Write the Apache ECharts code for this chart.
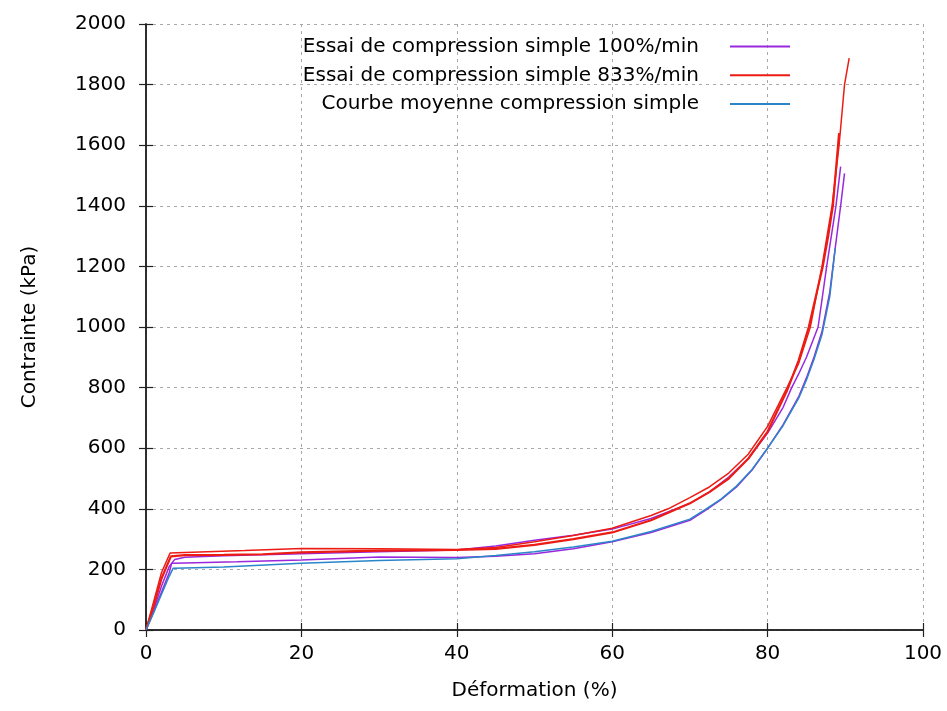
<!DOCTYPE html>
<html><head><meta charset="utf-8">
<script src="https://cdn.jsdelivr.net/npm/echarts@6/dist/echarts.min.js"></script>
<style>html,body{margin:0;padding:0;background:#fff}#c{width:947px;height:711px}</style>
</head><body><div id="c"></div>
<script>
// Axis ticks
const xTicks = [0, 20, 40, 60, 80, 100];
const yTicks = [0, 200, 400, 600, 800, 1000, 1200, 1400, 1600, 1800, 2000];

// Legend names
const name100 = 'Essai de compression simple 100%/min';
const name833 = 'Essai de compression simple 833%/min';
const nameMean = 'Courbe moyenne compression simple';

// 100%/min test A (lower plateau)
const strainP1 = [0, 1, 2, 3, 3.3, 5, 11.7, 20, 30, 40, 45, 50, 55, 60, 65, 70, 72, 74, 76, 78, 80, 82, 84, 85, 86, 87, 88, 88.7, 89.4, 89.9];
const stressP1 = [0, 60, 125, 190, 220, 221, 225, 231, 241, 239, 243, 252, 268, 291, 322, 362, 395, 430, 472, 528, 600, 678, 770, 832, 903, 985, 1115, 1260, 1400, 1507];
// 100%/min test B (upper plateau)
const strainP2 = [0, 1, 2, 3, 3.7, 5, 10, 20, 30, 40, 45, 50, 55, 60, 65, 70, 72.5, 75, 77.5, 80, 82, 83.1, 84, 85, 86.5, 87, 87.6, 88.2, 88.8, 89.4];
const stressP2 = [0, 68, 145, 210, 233, 240, 245, 252, 258, 264, 277, 296, 313, 333, 368, 418, 455, 505, 565, 650, 735, 800, 845, 900, 1000, 1090, 1200, 1300, 1400, 1529];
// 833%/min test A (upper thin)
const strainR1 = [0, 1, 2, 3.1, 5, 12.7, 20, 30, 40, 45, 50, 55, 60, 65, 67.2, 70, 72.5, 75, 77.5, 80, 82.5, 84, 85.5, 87, 88.3, 89.2, 89.9, 90.5];
const stressR1 = [0, 95, 190, 254, 256, 262, 269, 268, 266, 272, 291, 312, 336, 378, 400, 437, 472, 518, 580, 672, 800, 880, 1000, 1200, 1400, 1600, 1800, 1887];
// 833%/min test B (thick)
const strainR2 = [0, 1, 2, 3.2, 5, 10, 15, 20, 30, 40, 45, 50, 55, 60, 65, 70, 72.5, 75, 77.5, 80, 82.5, 84, 85.3, 86.2, 87.1, 87.8, 88.4, 89.2];
const stressR2 = [0, 80, 170, 243, 247, 248, 250, 256, 262, 264, 268, 281, 300, 322, 362, 418, 455, 500, 565, 655, 790, 890, 1000, 1100, 1200, 1300, 1400, 1640];
// Mean curve
const strainM = [0, 1, 2, 3, 3.5, 5, 10, 20, 30, 40, 45, 50, 55, 60, 65, 70, 72, 74, 76, 78, 80, 82, 84, 85, 86, 87, 88, 88.7];
const stressM = [0, 58, 118, 178, 204, 205, 208, 220, 229, 235, 246, 258, 274, 293, 325, 366, 398, 432, 475, 530, 600, 675, 765, 825, 895, 975, 1100, 1260];

const PURPLE = '#9a28dc', RED = '#ec1c14', BLUE = '#2a86c8';
const FONT = 'DejaVu Sans';
const FS = 20;

function pairs(xs, ys) { return xs.map((x, i) => [x, ys[i]]); }
function line(name, xs, ys, color, width) {
  return { type: 'line', name, color, data: pairs(xs, ys), showSymbol: false, symbol: 'none',
    lineStyle: { width, color }, animation: false, z: 2 };
}

const frame = { show: true, lineStyle: { color: '#222', width: 1.5 } };
const tick = { show: true, inside: true, length: 7, lineStyle: { color: '#222', width: 1.2 } };
const grid = { show: true, lineStyle: { color: '#a8a8a8', type: [3, 4], width: 1 } };
const label = { color: '#000', fontSize: FS, fontFamily: FONT, formatter: v => String(v) };

const names = [name100, name833, nameMean];
const legends = names.map((n, i) => ({
  data: [n], orient: 'vertical', right: 157, top: 36.5 + i * 28.8, align: 'right',
  icon: 'rect', itemWidth: 60, itemHeight: 2, padding: 0, selectedMode: false,
  textStyle: { color: '#000', fontSize: FS, fontFamily: FONT, padding: [0, 26, 0, 0] }
}));

const option = {
  backgroundColor: '#fff',
  animation: false,
  grid: { left: 146, right: 24, top: 24, bottom: 81, containLabel: false },
  legend: legends,
  xAxis: [
    { type: 'value', position: 'bottom', min: xTicks[0], max: xTicks[xTicks.length - 1], interval: xTicks[1] - xTicks[0],
      axisLine: frame, axisTick: tick, splitLine: grid,
      axisLabel: Object.assign({ margin: 14 }, label),
      name: 'Déformation (%)', nameLocation: 'middle', nameGap: 51,
      nameTextStyle: { color: '#000', fontSize: FS, fontFamily: FONT } },
    { type: 'value', position: 'top', min: xTicks[0], max: xTicks[xTicks.length - 1], interval: xTicks[1] - xTicks[0],
      axisLine: frame, axisTick: tick, splitLine: { show: false }, axisLabel: { show: false } }
  ],
  yAxis: [
    { type: 'value', position: 'left', min: yTicks[0], max: yTicks[yTicks.length - 1], interval: yTicks[1] - yTicks[0],
      axisLine: frame, axisTick: tick, splitLine: grid,
      axisLabel: Object.assign({ margin: 20 }, label),
      name: 'Contrainte (kPa)', nameLocation: 'middle', nameGap: 106, nameRotate: 90,
      nameTextStyle: { color: '#000', fontSize: FS, fontFamily: FONT } },
    { type: 'value', position: 'right', min: yTicks[0], max: yTicks[yTicks.length - 1], interval: yTicks[1] - yTicks[0],
      axisLine: frame, axisTick: tick, splitLine: { show: false }, axisLabel: { show: false } }
  ],
  series: [
    line(name100, strainP1, stressP1, PURPLE, 1.5),
    line(name100, strainP2, stressP2, PURPLE, 1.5),
    line(name833, strainR1, stressR1, RED, 1.5),
    line(name833, strainR2, stressR2, RED, 2.2),
    line(nameMean, strainM, stressM, BLUE, 1.5)
  ]
};

const chart = echarts.init(document.getElementById('c'), null, { renderer: 'canvas' });
chart.setOption(option);
</script>
</body></html>
